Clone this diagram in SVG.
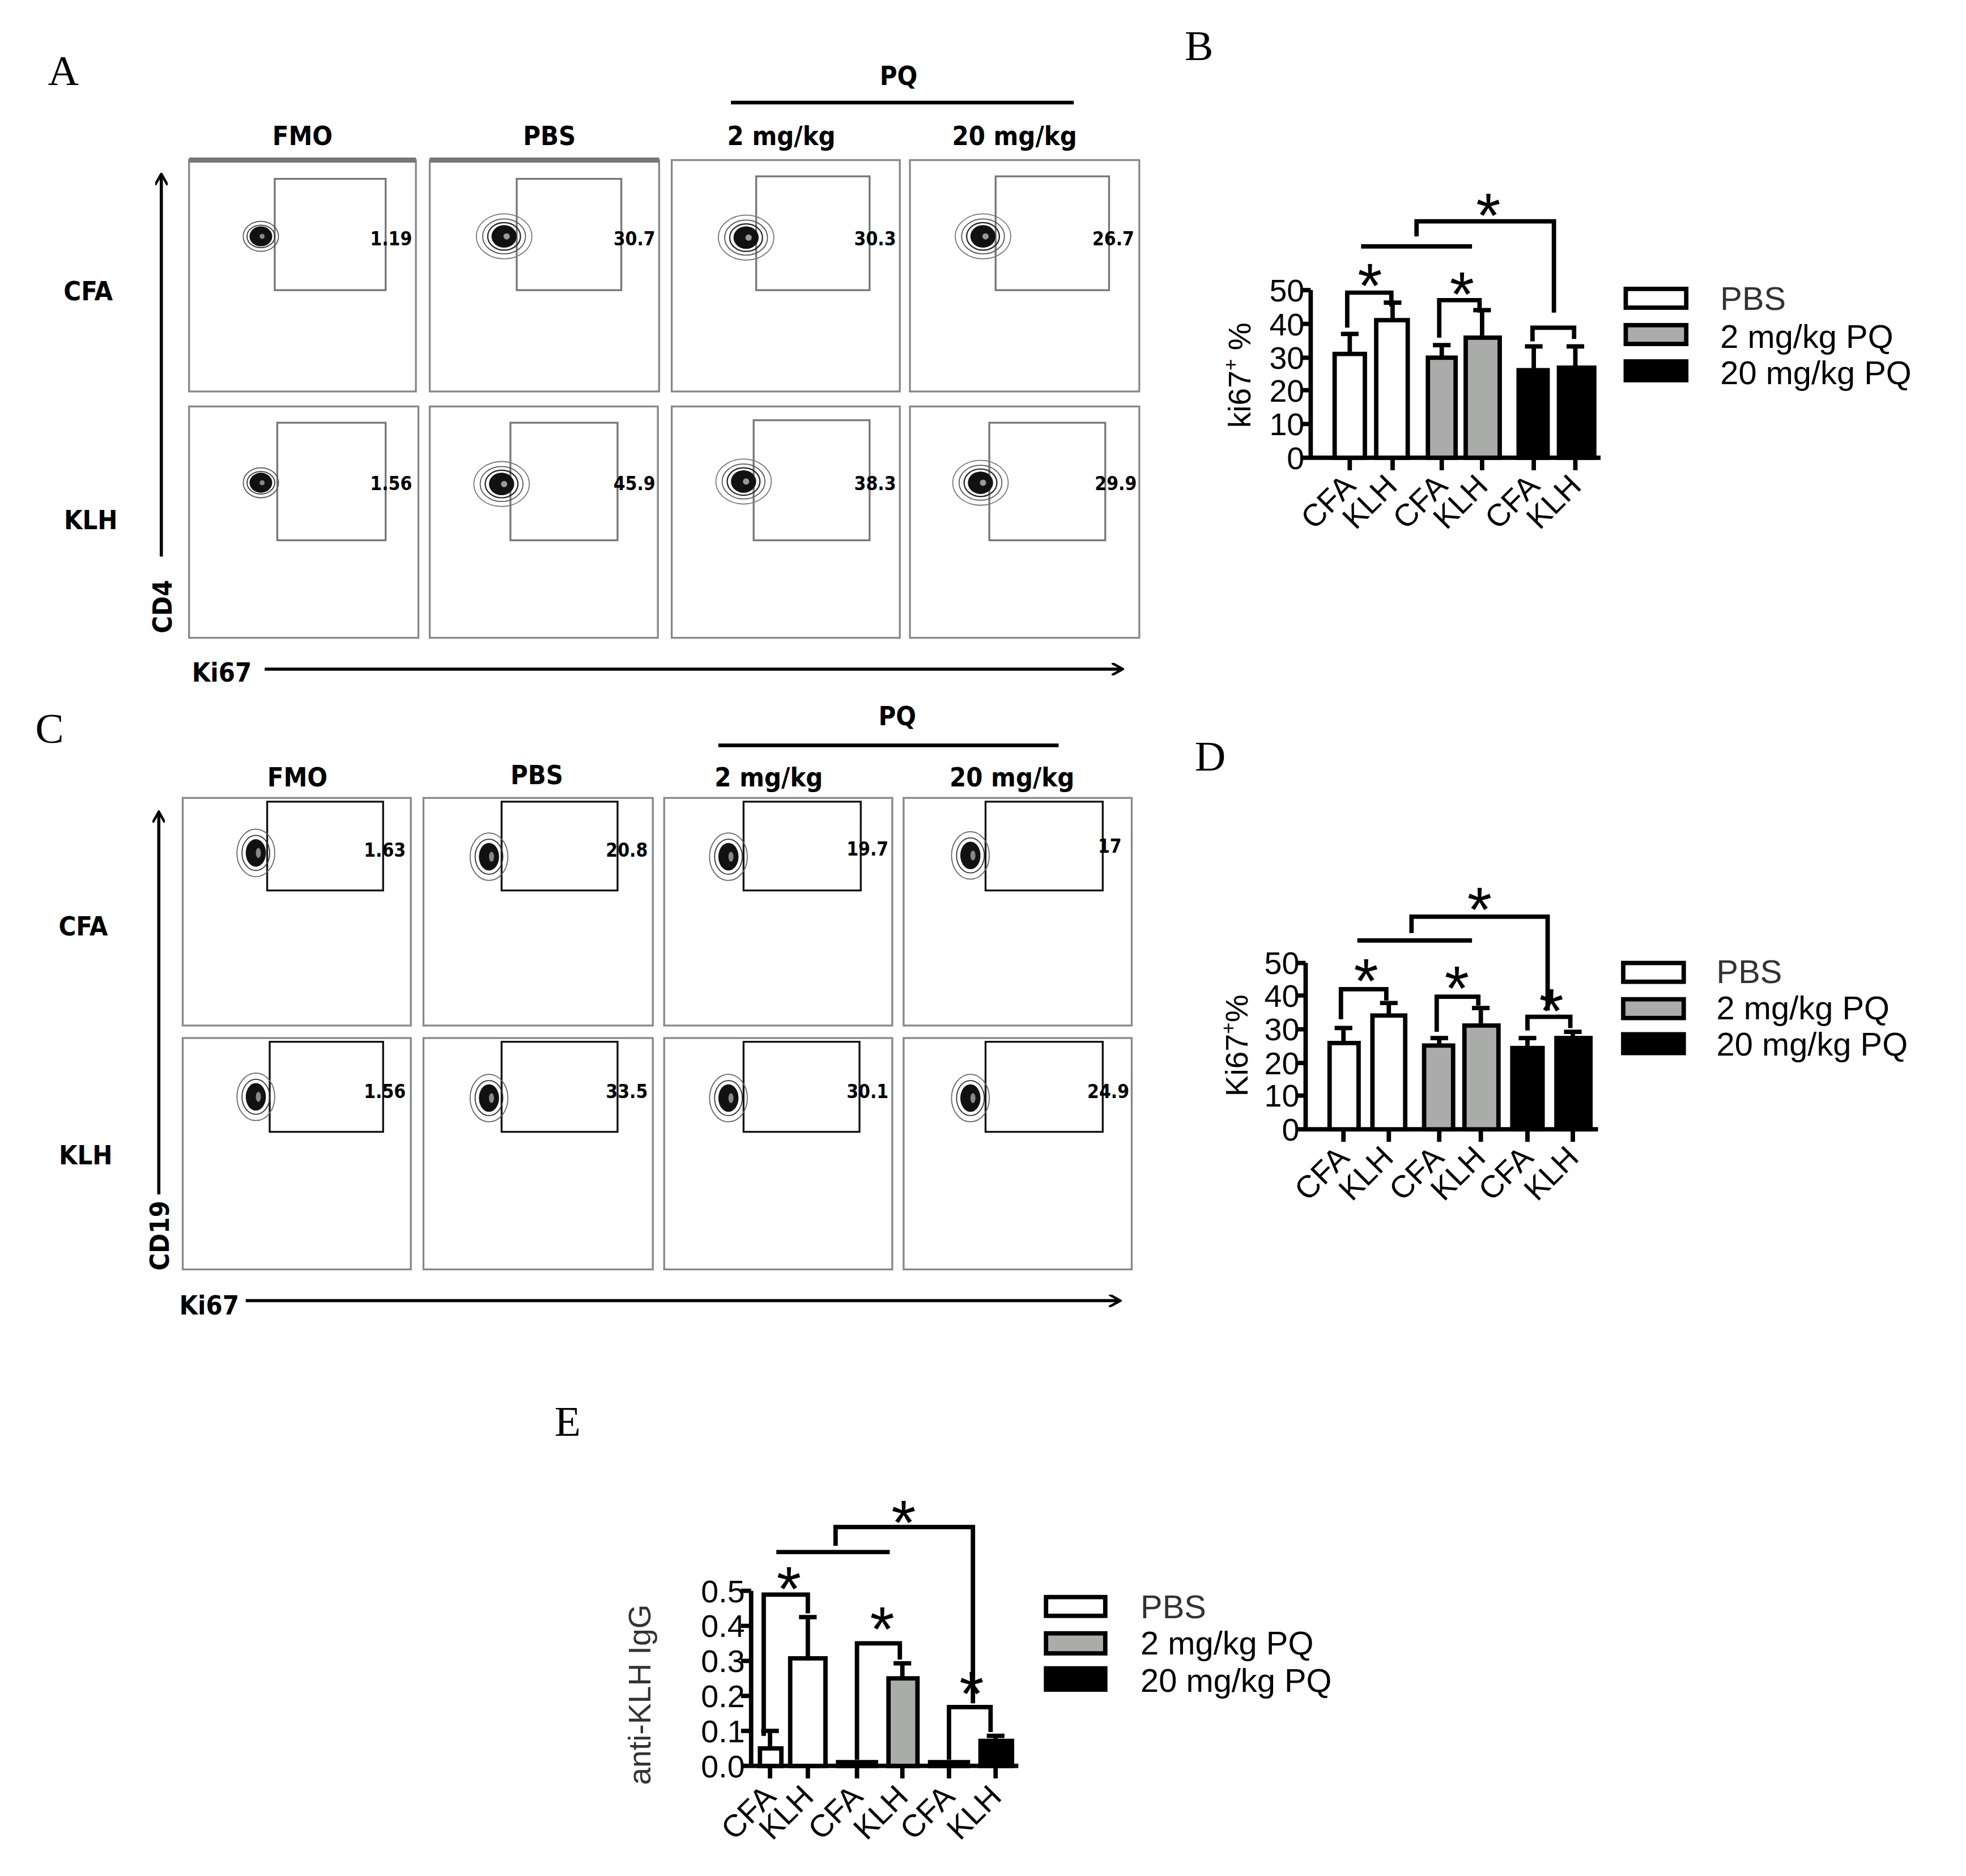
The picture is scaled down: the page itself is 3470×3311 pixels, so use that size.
<svg xmlns="http://www.w3.org/2000/svg" width="3470" height="3311" viewBox="0 0 3470 3311">
<style>
.let{font-family:"Liberation Serif",serif;font-size:34px}
.hd{font-family:"DejaVu Sans Condensed","DejaVu Sans",sans-serif;font-weight:bold;font-size:21px;text-anchor:middle}
.num{font-family:"DejaVu Sans Condensed","DejaVu Sans",sans-serif;font-weight:bold;font-size:15px;text-anchor:end}
.pan{fill:#fff;stroke:#888;stroke-width:1.5}
.gate{fill:none;stroke:#777;stroke-width:1.5}
.gc{fill:none;stroke:#111;stroke-width:1.5}
.ax{font-family:"Liberation Sans",Arial,sans-serif;font-size:25px}
.tk{font-family:"Liberation Sans",Arial,sans-serif;font-size:25px;text-anchor:end}
.lg{font-family:"Liberation Sans",Arial,sans-serif;font-size:26px}
.st{font-family:"Liberation Sans",Arial,sans-serif;font-size:50px;text-anchor:middle}
.k{stroke:#000;stroke-width:3.5;fill:none}
.bw{fill:#fff;stroke:#000;stroke-width:3.5}
.bg{fill:#aaaca9;stroke:#000;stroke-width:3.5}
.bb{fill:#000;stroke:#000;stroke-width:3.5}
</style>
<defs>
<marker id="ar" markerWidth="10" markerHeight="10" refX="8" refY="5" orient="auto" markerUnits="userSpaceOnUse"><path d="M0,0 L9,5 L0,10" fill="none" stroke="#000" stroke-width="2"/></marker>
<g id="blob"><ellipse rx="14" ry="12" fill="none" stroke="#555" stroke-width="0.8"/><ellipse rx="11" ry="9" fill="none" stroke="#333" stroke-width="0.8"/><ellipse rx="9" ry="8" fill="#111"/><circle r="2" cx="1" fill="#888"/></g>
<g id="blob2"><ellipse rx="22" ry="18" fill="none" stroke="#777" stroke-width="0.8"/><ellipse rx="17" ry="14" fill="none" stroke="#555" stroke-width="0.8"/><ellipse rx="13" ry="11" fill="none" stroke="#222" stroke-width="1"/><ellipse rx="10" ry="9" fill="#111"/><circle r="2.5" cx="2" fill="#999"/></g>
<g id="blobc"><ellipse rx="15" ry="19" fill="none" stroke="#666" stroke-width="0.8"/><ellipse rx="11" ry="14" fill="none" stroke="#333" stroke-width="0.8"/><ellipse rx="8" ry="11" fill="#111"/><ellipse rx="2" ry="4" cx="2" fill="#888"/></g>
</defs>
<rect width="3470" height="3311" fill="#fff"/>
<g transform="scale(2.2244,2.2073)">
<g id="panelA">
<text class="let" x="38" y="68">A</text>
<text class="hd" x="713" y="68">PQ</text>
<line x1="580" y1="82" x2="852" y2="82" stroke="#000" stroke-width="3"/>
<text class="hd" x="240" y="116">FMO</text><text class="hd" x="436" y="116">PBS</text>
<text class="hd" x="620" y="116">2 mg/kg</text><text class="hd" x="805" y="116">20 mg/kg</text>
<rect class="pan" x="150" y="128" width="180" height="185"/><rect class="pan" x="341" y="128" width="182" height="185"/>
<rect class="pan" x="533" y="128" width="181" height="185"/><rect class="pan" x="722" y="128" width="182" height="185"/>
<rect class="pan" x="150" y="325" width="182" height="185"/><rect class="pan" x="341" y="325" width="181" height="185"/>
<rect class="pan" x="533" y="325" width="181" height="185"/><rect class="pan" x="722" y="325" width="182" height="185"/>
<line x1="150" y1="128" x2="330" y2="128" stroke="#777" stroke-width="4"/><line x1="341" y1="128" x2="523" y2="128" stroke="#777" stroke-width="4"/>
<rect class="gate" x="218" y="143" width="88" height="89"/><rect class="gate" x="410" y="143" width="83" height="89"/>
<rect class="gate" x="600" y="141" width="90" height="91"/><rect class="gate" x="790" y="141" width="90" height="91"/>
<rect class="gate" x="220" y="338" width="86" height="94"/><rect class="gate" x="405" y="338" width="85" height="94"/>
<rect class="gate" x="598" y="336" width="92" height="96"/><rect class="gate" x="785" y="338" width="92" height="94"/>
<use href="#blob" x="207" y="189"/><use href="#blob2" x="400" y="189"/><use href="#blob2" x="592" y="190"/><use href="#blob2" x="780" y="189"/>
<use href="#blob" x="207" y="386"/><use href="#blob2" x="398" y="387"/><use href="#blob2" x="590" y="385"/><use href="#blob2" x="778" y="386"/>
<text class="num" x="327" y="196">1.19</text><text class="num" x="520" y="196">30.7</text><text class="num" x="711" y="196">30.3</text><text class="num" x="900" y="196">26.7</text>
<text class="num" x="327" y="392">1.56</text><text class="num" x="520" y="392">45.9</text><text class="num" x="711" y="392">38.3</text><text class="num" x="902" y="392">29.9</text>
<text class="hd" x="70" y="240">CFA</text><text class="hd" x="72" y="423">KLH</text>
<line x1="128" y1="445" x2="128" y2="140" stroke="#000" stroke-width="2.5" marker-end="url(#ar)"/>
<text class="hd" transform="translate(136,485) rotate(-90)">CD4</text>
<text class="hd" x="176" y="545">Ki67</text>
<line x1="210" y1="535" x2="890" y2="535" stroke="#000" stroke-width="2.5" marker-end="url(#ar)"/>
</g>
<g id="panelC">
<text class="let" x="28" y="594">C</text>
<text class="hd" x="712" y="580">PQ</text>
<line x1="570" y1="596" x2="840" y2="596" stroke="#000" stroke-width="3"/>
<text class="hd" x="236" y="629">FMO</text><text class="hd" x="426" y="627">PBS</text>
<text class="hd" x="610" y="629">2 mg/kg</text><text class="hd" x="803" y="629">20 mg/kg</text>
<rect class="pan" x="145" y="638" width="181" height="182"/><rect class="pan" x="336" y="638" width="182" height="182"/>
<rect class="pan" x="527" y="638" width="181" height="182"/><rect class="pan" x="717" y="638" width="181" height="182"/>
<rect class="pan" x="145" y="830" width="181" height="185"/><rect class="pan" x="336" y="830" width="182" height="185"/>
<rect class="pan" x="527" y="830" width="181" height="185"/><rect class="pan" x="717" y="830" width="181" height="185"/>
<rect class="gc" x="212" y="641" width="92" height="71"/><rect class="gc" x="398" y="641" width="92" height="71"/>
<rect class="gc" x="590" y="641" width="93" height="71"/><rect class="gc" x="782" y="641" width="93" height="71"/>
<rect class="gc" x="214" y="833" width="90" height="72"/><rect class="gc" x="398" y="833" width="92" height="72"/>
<rect class="gc" x="590" y="833" width="92" height="72"/><rect class="gc" x="782" y="833" width="93" height="72"/>
<use href="#blobc" x="203" y="682"/><use href="#blobc" x="388" y="685"/><use href="#blobc" x="578" y="685"/><use href="#blobc" x="770" y="684"/>
<use href="#blobc" x="203" y="877"/><use href="#blobc" x="388" y="878"/><use href="#blobc" x="578" y="878"/><use href="#blobc" x="770" y="878"/>
<text class="num" x="322" y="685">1.63</text><text class="num" x="514" y="685">20.8</text><text class="num" x="705" y="684">19.7</text><text class="num" x="890" y="682">17</text>
<text class="num" x="322" y="878">1.56</text><text class="num" x="514" y="878">33.5</text><text class="num" x="705" y="878">30.1</text><text class="num" x="896" y="878">24.9</text>
<text class="hd" x="66" y="748">CFA</text><text class="hd" x="68" y="931">KLH</text>
<line x1="126" y1="955" x2="126" y2="650" stroke="#000" stroke-width="2.5" marker-end="url(#ar)"/>
<text class="hd" transform="translate(134,988) rotate(-90)">CD19</text>
<text class="hd" x="166" y="1051">Ki67</text>
<line x1="195" y1="1040" x2="888" y2="1040" stroke="#000" stroke-width="2.5" marker-end="url(#ar)"/>
</g>
<g id="panelB">
<text class="let" x="940" y="48">B</text>
<text class="ax" transform="translate(992,300) rotate(-90)" text-anchor="middle">ki67<tspan font-size="16" dy="-10">+</tspan><tspan dy="10"> %</tspan></text>
<g class="tk"><text x="1035" y="375">0</text><text x="1035" y="348">10</text><text x="1035" y="321">20</text><text x="1035" y="295">30</text><text x="1035" y="268">40</text><text x="1035" y="241">50</text></g>
<path class="k" d="M1040,232 V366 M1032,232 H1040 M1032,259 H1040 M1032,286 H1040 M1032,312 H1040 M1032,339 H1040 M1032,366 H1270"/>
<path class="k" d="M1071,283 V267 M1064,267 H1078 M1105,256 V242 M1098,242 H1112 M1144,286 V276 M1137,276 H1151 M1176,270 V248 M1169,248 H1183 M1217,296 V277 M1210,277 H1224 M1250,294 V277 M1243,277 H1257"/>
<rect class="bw" x="1059" y="283" width="24" height="83"/><rect class="bw" x="1092" y="256" width="25" height="110"/>
<rect class="bg" x="1133" y="286" width="22" height="80"/><rect class="bg" x="1163" y="270" width="27" height="96"/>
<rect class="bb" x="1205" y="296" width="23" height="70"/><rect class="bb" x="1237" y="294" width="28" height="72"/>
<path class="k" d="M1071,366 V376 M1105,366 V376 M1144,366 V376 M1176,366 V376 M1217,366 V376 M1250,366 V376"/>
<path class="k" d="M1069,262 V234 H1104 V245 M1142,270 V240 H1174 V250 M1216,273 V262 H1249 V271 M1080,197 H1168 M1124,189 V177 H1233 V250"/>
<text class="st" x="1087" y="246">*</text><text class="st" x="1160" y="253">*</text><text class="st" x="1181" y="190">*</text>
<g class="ax" text-anchor="end"><text transform="translate(1077,390) rotate(-45)">CFA</text><text transform="translate(1110,390) rotate(-45)">KLH</text><text transform="translate(1150,390) rotate(-45)">CFA</text><text transform="translate(1182,390) rotate(-45)">KLH</text><text transform="translate(1223,390) rotate(-45)">CFA</text><text transform="translate(1256,390) rotate(-45)">KLH</text></g>
<rect class="bw" x="1290" y="231" width="48" height="15"/><rect class="bg" x="1290" y="260" width="48" height="15"/><rect class="bb" x="1290" y="289" width="48" height="15"/>
<text class="lg" x="1365" y="248" fill="#333">PBS</text><text class="lg" x="1365" y="278">2 mg/kg PQ</text><text class="lg" x="1365" y="307">20 mg/kg PQ</text>
</g>
<g id="panelD">
<text class="let" x="948" y="616">D</text>
<text class="ax" transform="translate(990,836) rotate(-90)" text-anchor="middle">Ki67<tspan font-size="16" dy="-10">+</tspan><tspan dy="10">%</tspan></text>
<g class="tk"><text x="1031" y="912">0</text><text x="1031" y="885">10</text><text x="1031" y="859">20</text><text x="1031" y="832">30</text><text x="1031" y="805">40</text><text x="1031" y="779">50</text></g>
<path class="k" d="M1036,770 V903 M1028,770 H1036 M1028,796 H1036 M1028,823 H1036 M1028,850 H1036 M1028,876 H1036 M1028,903 H1268"/>
<path class="k" d="M1066,834 V822 M1059,822 H1073 M1102,812 V802 M1095,802 H1109 M1142,836 V830 M1135,830 H1149 M1175,820 V806 M1168,806 H1182 M1212,838 V830 M1205,830 H1219 M1248,830 V825 M1241,825 H1255"/>
<rect class="bw" x="1055" y="834" width="23" height="69"/><rect class="bw" x="1089" y="812" width="26" height="91"/>
<rect class="bg" x="1130" y="836" width="23" height="67"/><rect class="bg" x="1162" y="820" width="27" height="83"/>
<rect class="bb" x="1200" y="838" width="24" height="65"/><rect class="bb" x="1235" y="830" width="27" height="73"/>
<path class="k" d="M1066,903 V913 M1102,903 V913 M1142,903 V913 M1175,903 V913 M1212,903 V913 M1248,903 V913"/>
<path class="k" d="M1064,815 V791 H1100 V800 M1140,825 V797 H1173 V804 M1212,824 V813 H1246 V822 M1077,752 H1168 M1120,746 V733 H1228 V808"/>
<text class="st" x="1084" y="802">*</text><text class="st" x="1156" y="808">*</text><text class="st" x="1231" y="826">*</text><text class="st" x="1174" y="745">*</text>
<g class="ax" text-anchor="end"><text transform="translate(1072,927) rotate(-45)">CFA</text><text transform="translate(1107,927) rotate(-45)">KLH</text><text transform="translate(1147,927) rotate(-45)">CFA</text><text transform="translate(1180,927) rotate(-45)">KLH</text><text transform="translate(1218,927) rotate(-45)">CFA</text><text transform="translate(1254,927) rotate(-45)">KLH</text></g>
<rect class="bw" x="1288" y="770" width="48" height="15"/><rect class="bg" x="1288" y="799" width="48" height="15"/><rect class="bb" x="1288" y="827" width="48" height="15"/>
<text class="lg" x="1362" y="786" fill="#333">PBS</text><text class="lg" x="1362" y="815">2 mg/kg PQ</text><text class="lg" x="1362" y="844">20 mg/kg PQ</text>
</g>
<g id="panelE">
<text class="let" x="440" y="1148">E</text>
<text class="ax" transform="translate(516,1355) rotate(-90)" text-anchor="middle" fill="#333">anti-KLH IgG</text>
<g class="tk"><text x="591" y="1421">0.0</text><text x="591" y="1393">0.1</text><text x="591" y="1365">0.2</text><text x="591" y="1337">0.3</text><text x="591" y="1309">0.4</text><text x="591" y="1281">0.5</text></g>
<path class="k" d="M596,1272 V1412 M588,1272 H596 M588,1300 H596 M588,1328 H596 M588,1356 H596 M588,1384 H596 M588,1412 H808"/>
<path class="k" d="M611,1398 V1384 M604,1384 H618 M641,1326 V1293 M634,1293 H648 M716,1342 V1330 M709,1330 H723 M790,1392 V1388 M783,1388 H797"/>
<rect class="bw" x="603" y="1398" width="17" height="14"/><rect class="bw" x="627" y="1326" width="28" height="86"/>
<rect class="bb" x="665" y="1409" width="30" height="3"/><rect class="bg" x="705" y="1342" width="23" height="70"/>
<rect class="bb" x="738" y="1409" width="30" height="3"/><rect class="bb" x="778" y="1392" width="25" height="20"/>
<path class="k" d="M611,1412 V1422 M641,1412 V1422 M680,1412 V1422 M716,1412 V1422 M753,1412 V1422 M790,1412 V1422"/>
<path class="k" d="M606,1388 V1275 H641 V1290 M680,1407 V1314 H714 V1327 M753,1407 V1365 H786 V1385 M616,1241 H706 M663,1236 V1221 H772 V1362"/>
<text class="st" x="626" y="1288">*</text><text class="st" x="700" y="1320">*</text><text class="st" x="771" y="1372">*</text><text class="st" x="717" y="1235">*</text>
<g class="ax" text-anchor="end"><text transform="translate(617,1438) rotate(-45)">CFA</text><text transform="translate(647,1438) rotate(-45)">KLH</text><text transform="translate(686,1438) rotate(-45)">CFA</text><text transform="translate(722,1438) rotate(-45)">KLH</text><text transform="translate(759,1438) rotate(-45)">CFA</text><text transform="translate(796,1438) rotate(-45)">KLH</text></g>
<rect class="bw" x="830" y="1277" width="47" height="15"/><rect class="bg" x="830" y="1306" width="47" height="16"/><rect class="bb" x="830" y="1334" width="47" height="17"/>
<text class="lg" x="905" y="1294" fill="#333">PBS</text><text class="lg" x="905" y="1323">2 mg/kg PQ</text><text class="lg" x="905" y="1353">20 mg/kg PQ</text>
</g>
</g>
</svg>
